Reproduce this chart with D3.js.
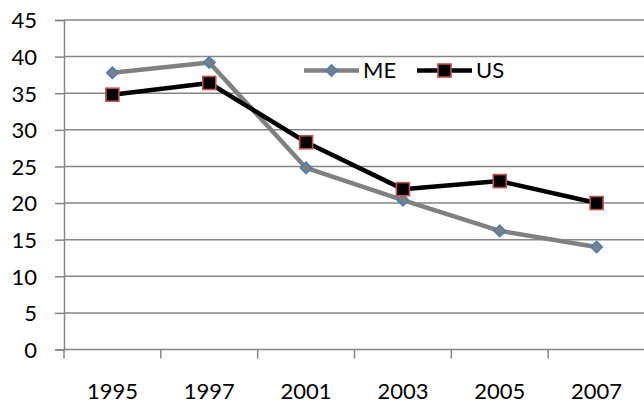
<!DOCTYPE html>
<html>
<head>
<meta charset="utf-8">
<script src="https://cdn.jsdelivr.net/npm/d3@7"></script>
<style>
  html, body { margin: 0; padding: 0; background: #fff; }
  svg { display: block; }
  text { font-family: Lato, "Open Sans", sans-serif; fill: #000; }
</style>
</head>
<body>
<svg id="chart" width="644" height="404"></svg>
<script>
// Categories and series
const years = ["1995", "1997", "2001", "2003", "2005", "2007"];
const meValues = [37.8, 39.2, 24.8, 20.4, 16.2, 14.0];
const usValues = [34.8, 36.4, 28.3, 21.9, 23.0, 20.0];
const yTicks = [0, 5, 10, 15, 20, 25, 30, 35, 40, 45];

const series = [
  { name: "ME", values: meValues, line: "#808080", marker: "diamond", fill: "#7f7f7f", stroke: "#4a7ebb" },
  { name: "US", values: usValues, line: "#000000", marker: "square", fill: "#000000", stroke: "#c0504d" }
];

const svg = d3.select("#chart");
const plotLeft = 64, plotRight = 645, plotTop = 20, plotBottom = 349.5;

const x = d3.scaleBand().domain(years).range([plotLeft, plotRight]).padding(0);
const y = d3.scaleLinear().domain([0, 45]).range([plotBottom, plotTop]);
const cx = d => x(d) + x.bandwidth() / 2;

const axisColor = "#868686";

// Horizontal gridlines
svg.append("g")
  .selectAll("line")
  .data(yTicks.filter(t => t > 0))
  .join("line")
  .attr("x1", plotLeft).attr("x2", 644)
  .attr("y1", d => y(d)).attr("y2", d => y(d))
  .attr("stroke", axisColor).attr("stroke-width", 1.5);

// Y axis
const yAxis = svg.append("g")
  .attr("transform", `translate(${plotLeft},0)`)
  .call(d3.axisLeft(y).tickValues(yTicks).tickSize(9).tickPadding(18).tickFormat(d3.format("d")));
yAxis.select(".domain").attr("stroke", axisColor).attr("stroke-width", 1.5);
yAxis.selectAll(".tick line").attr("stroke", axisColor).attr("stroke-width", 1.5);
yAxis.selectAll(".tick text")
  .attr("font-size", 22).attr("dy", "0.36em")
  .style("font-family", "Lato, 'Open Sans', sans-serif").attr("fill", "#000");

// X axis baseline, category boundary ticks and labels
const xg = svg.append("g");
xg.append("line")
  .attr("x1", plotLeft).attr("x2", 644)
  .attr("y1", y(0)).attr("y2", y(0))
  .attr("stroke", axisColor).attr("stroke-width", 1.5);
const bounds = years.map(d => x(d)).concat([x(years[years.length - 1]) + x.bandwidth()]);
xg.selectAll(".xt")
  .data(bounds)
  .join("line")
  .attr("class", "xt")
  .attr("x1", d => d).attr("x2", d => d)
  .attr("y1", y(0)).attr("y2", y(0) + 9)
  .attr("stroke", axisColor).attr("stroke-width", 1.5);
xg.selectAll(".xl")
  .data(years)
  .join("text")
  .attr("class", "xl")
  .attr("x", d => cx(d))
  .attr("y", 399)
  .attr("text-anchor", "middle")
  .attr("font-size", 22)
  .text(d => d);

// Marker shapes: blue-edged diamond and red-edged square
function drawMarker(g, s, px, py) {
  if (s.marker === "diamond") {
    g.append("rect")
      .attr("x", -4).attr("y", -4)
      .attr("width", 8).attr("height", 8)
      .attr("transform", `translate(${px},${py}) rotate(45)`)
      .attr("fill", s.fill).attr("stroke", s.stroke).attr("stroke-width", 1.6);
  } else {
    g.append("rect")
      .attr("x", px - 6.5).attr("y", py - 6.5)
      .attr("width", 13).attr("height", 13)
      .attr("fill", s.fill).attr("stroke", s.stroke).attr("stroke-width", 1.6);
  }
}

// Series lines and markers
const line = d3.line().x((v, i) => cx(years[i])).y(v => y(v));
series.forEach(s => {
  const g = svg.append("g");
  g.append("path")
    .attr("d", line(s.values))
    .attr("fill", "none")
    .attr("stroke", s.line)
    .attr("stroke-width", 4.5)
    .attr("stroke-linejoin", "round");
  s.values.forEach((v, i) => drawMarker(g, s, cx(years[i]), y(v)));
});

// Legend
const legendY = 70.5;
const legendItems = [
  { s: series[0], x0: 304 },
  { s: series[1], x0: 417 }
];
legendItems.forEach(({ s, x0 }) => {
  const g = svg.append("g");
  g.append("line")
    .attr("x1", x0).attr("x2", x0 + 55)
    .attr("y1", legendY).attr("y2", legendY)
    .attr("stroke", s.line).attr("stroke-width", 4.5);
  drawMarker(g, s, x0 + 27.5, legendY);
  g.append("text")
    .attr("x", x0 + 59)
    .attr("y", legendY)
    .attr("dy", "0.36em")
    .attr("font-size", 22)
    .text(s.name);
});
</script>
</body>
</html>
